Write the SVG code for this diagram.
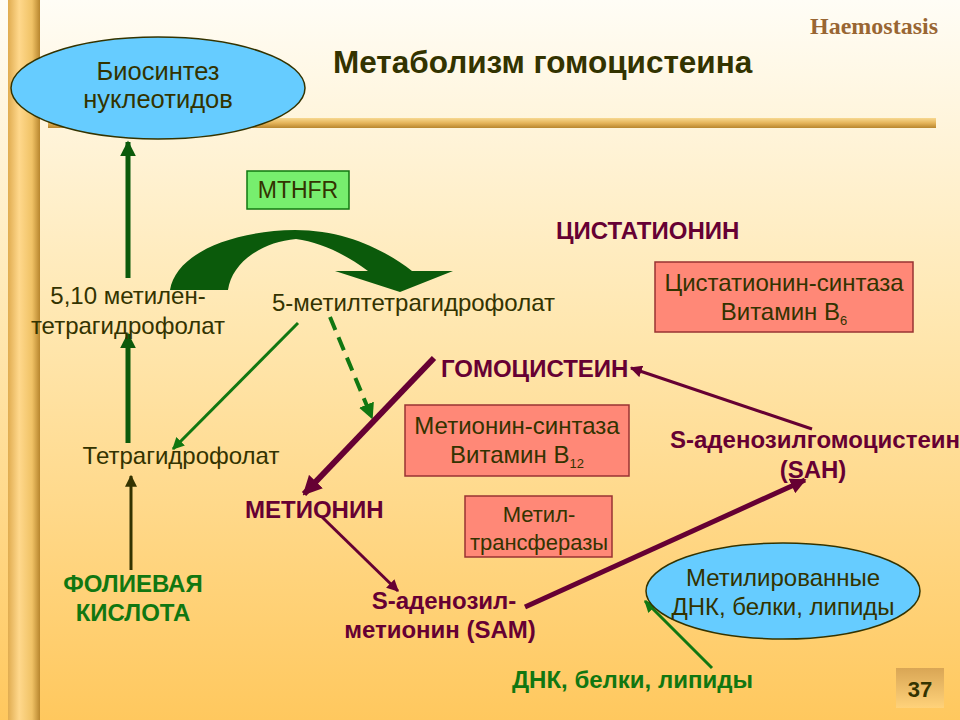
<svg xmlns="http://www.w3.org/2000/svg" width="960" height="720" viewBox="0 0 960 720">
<defs>
<linearGradient id="bg" x1="0" y1="0" x2="0" y2="1">
<stop offset="0" stop-color="#fffdf6"/>
<stop offset="0.45" stop-color="#ffe7b0"/>
<stop offset="1" stop-color="#ffc85e"/>
</linearGradient>
<linearGradient id="pillar" x1="0" y1="0" x2="1" y2="0">
<stop offset="0" stop-color="#e0ac50"/>
<stop offset="0.35" stop-color="#ffd88c"/>
<stop offset="0.75" stop-color="#f0c266"/>
<stop offset="1" stop-color="#b8862e"/>
</linearGradient>
<linearGradient id="hbar" x1="0" y1="0" x2="0" y2="1">
<stop offset="0" stop-color="#f7d890"/>
<stop offset="0.5" stop-color="#e5b45a"/>
<stop offset="1" stop-color="#b8862e"/>
</linearGradient>
<linearGradient id="num" x1="0" y1="0" x2="0" y2="1">
<stop offset="0" stop-color="#d9a655"/>
<stop offset="1" stop-color="#ffd27a"/>
</linearGradient>
<marker id="ag" viewBox="0 0 10 10" refX="9" refY="5" markerWidth="4" markerHeight="4" orient="auto" markerUnits="strokeWidth">
<path d="M0,0 L10,5 L0,10 z" fill="#117711"/>
</marker>
<marker id="agd" viewBox="0 0 10 10" refX="9" refY="5" markerWidth="3.2" markerHeight="3.2" orient="auto" markerUnits="strokeWidth">
<path d="M0,0 L10,5 L0,10 z" fill="#0b5a0b"/>
</marker>
<marker id="ao" viewBox="0 0 10 10" refX="9" refY="5" markerWidth="4" markerHeight="4" orient="auto" markerUnits="strokeWidth">
<path d="M0,0 L10,5 L0,10 z" fill="#333300"/>
</marker>
<marker id="am" viewBox="0 0 10 10" refX="9" refY="5" markerWidth="4" markerHeight="4" orient="auto" markerUnits="strokeWidth">
<path d="M0,0 L10,5 L0,10 z" fill="#660033"/>
</marker>
<marker id="amb" viewBox="0 0 10 10" refX="9" refY="5" markerWidth="3.2" markerHeight="3.2" orient="auto" markerUnits="strokeWidth">
<path d="M0,0 L10,5 L0,10 z" fill="#660033"/>
</marker>
</defs>
<style>
text{font-family:"Liberation Sans",Arial,sans-serif;}
.t{font-size:24px;fill:#333300;}
.m{font-size:24px;font-weight:bold;fill:#660033;}
.g{font-size:24px;font-weight:bold;fill:#117711;}
.box{fill:#ff8877;stroke:#993333;stroke-width:1.5;}
.ell{fill:#66ccff;stroke:#333300;stroke-width:1.5;}
.c{text-anchor:middle;}
</style>
<rect x="0" y="0" width="960" height="720" fill="url(#bg)"/>
<rect x="8" y="0" width="32" height="720" fill="url(#pillar)"/>
<rect x="48" y="118" width="888" height="10" fill="url(#hbar)"/>
<text x="938" y="34" text-anchor="end" style="font-family:'Liberation Serif',serif;font-size:24px;font-weight:bold;fill:#996633">Haemostasis</text>
<text x="333" y="73" style="font-size:31.5px;font-weight:bold;fill:#333300">Метаболизм гомоцистеина</text>
<g id="connectors">
<line x1="128" y1="278" x2="128" y2="142" stroke="#0b5a0b" stroke-width="5" marker-end="url(#agd)"/>
<line x1="128" y1="443" x2="128" y2="334" stroke="#0b5a0b" stroke-width="5" marker-end="url(#agd)"/>
<line x1="131" y1="570" x2="131" y2="476" stroke="#333300" stroke-width="3" marker-end="url(#ao)"/>
<path id="mthfr-arrow" d="M170,290 C176,254 230,231 295,230 C345,230 385,250 412,271 L453,271 L400,292 L335,271 L368,271 C345,254 320,242 296,239 C262,242 232,262 228,290 Z" fill="#0b5a0b"/>
<line x1="298" y1="323" x2="173" y2="449" stroke="#117711" stroke-width="3" marker-end="url(#ag)"/>
<line x1="330" y1="317" x2="372" y2="418" stroke="#117711" stroke-width="4" stroke-dasharray="14,8" marker-end="url(#ag)"/>
<line x1="434" y1="358" x2="304" y2="494" stroke="#660033" stroke-width="6" marker-end="url(#amb)"/>
<line x1="812" y1="429" x2="631" y2="368" stroke="#660033" stroke-width="3" marker-end="url(#am)"/>
<line x1="322" y1="517" x2="398" y2="591" stroke="#660033" stroke-width="3" marker-end="url(#am)"/>
<line x1="525" y1="607" x2="805" y2="480" stroke="#660033" stroke-width="5" marker-end="url(#amb)"/>
<line x1="712" y1="668" x2="645" y2="601" stroke="#117711" stroke-width="3" marker-end="url(#ag)"/>
</g>
<g id="biosynthesis">
<ellipse class="ell" cx="158" cy="88" rx="147" ry="51"/>
<text class="t c" x="158" y="80" style="font-size:25.5px">Биосинтез</text>
<text class="t c" x="158" y="108" style="font-size:25.5px">нуклеотидов</text>
</g>
<g id="mthfr">
<rect x="247" y="171" width="102" height="38" fill="#77ee6e" stroke="#117711" stroke-width="1.5"/>
<text class="t c" x="298" y="198" style="font-size:23px">MTHFR</text>
</g>
<g id="methylene-thf">
<text class="t c" x="128" y="304">5,10 метилен-</text>
<text class="t c" x="128" y="334">тетрагидрофолат</text>
</g>
<g id="methyl-thf">
<text class="t" x="272" y="311">5-метилтетрагидрофолат</text>
</g>
<g id="thf">
<text class="t c" x="181" y="464">Тетрагидрофолат</text>
</g>
<g id="folic">
<text class="g c" x="133" y="592">ФОЛИЕВАЯ</text>
<text class="g c" x="133" y="621">КИСЛОТА</text>
</g>
<g id="cystathionine">
<text class="m" x="556" y="239">ЦИСТАТИОНИН</text>
</g>
<g id="cbs">
<rect class="box" x="655" y="262" width="258" height="70"/>
<text class="t c" x="784" y="291">Цистатионин-синтаза</text>
<text class="t c" x="784" y="320">Витамин В<tspan font-size="13" dy="5">6</tspan></text>
</g>
<g id="homocysteine">
<text class="m" x="441" y="377">ГОМОЦИСТЕИН</text>
</g>
<g id="ms">
<rect class="box" x="405" y="405" width="224" height="71"/>
<text class="t c" x="517" y="434">Метионин-синтаза</text>
<text class="t c" x="517" y="463">Витамин В<tspan font-size="13" dy="5">12</tspan></text>
</g>
<g id="sah">
<text class="m" x="670" y="448">S-аденозилгомоцистеин</text>
<text class="m c" x="813" y="478">(SAH)</text>
</g>
<g id="methionine">
<text class="m" x="245" y="518">МЕТИОНИН</text>
</g>
<g id="mt">
<rect class="box" x="465" y="496" width="147" height="61"/>
<text class="t c" x="539" y="522" style="font-size:22px">Метил-</text>
<text class="t c" x="539" y="550" style="font-size:22px">трансферазы</text>
</g>
<g id="sam">
<text class="m c" x="444" y="609">S-аденозил-</text>
<text class="m c" x="440" y="638">метионин (SAM)</text>
</g>
<g id="methylated">
<ellipse class="ell" cx="783" cy="591" rx="137" ry="48"/>
<text class="t c" x="783" y="586">Метилированные</text>
<text class="t c" x="783" y="615">ДНК, белки, липиды</text>
</g>
<g id="dna">
<text class="g" x="512" y="688">ДНК, белки, липиды</text>
</g>
<g id="page">
<rect x="896" y="668" width="48" height="40" fill="url(#num)"/>
<text x="920" y="697" text-anchor="middle" style="font-size:22px;font-weight:bold;fill:#333300">37</text>
</g>
</svg>
